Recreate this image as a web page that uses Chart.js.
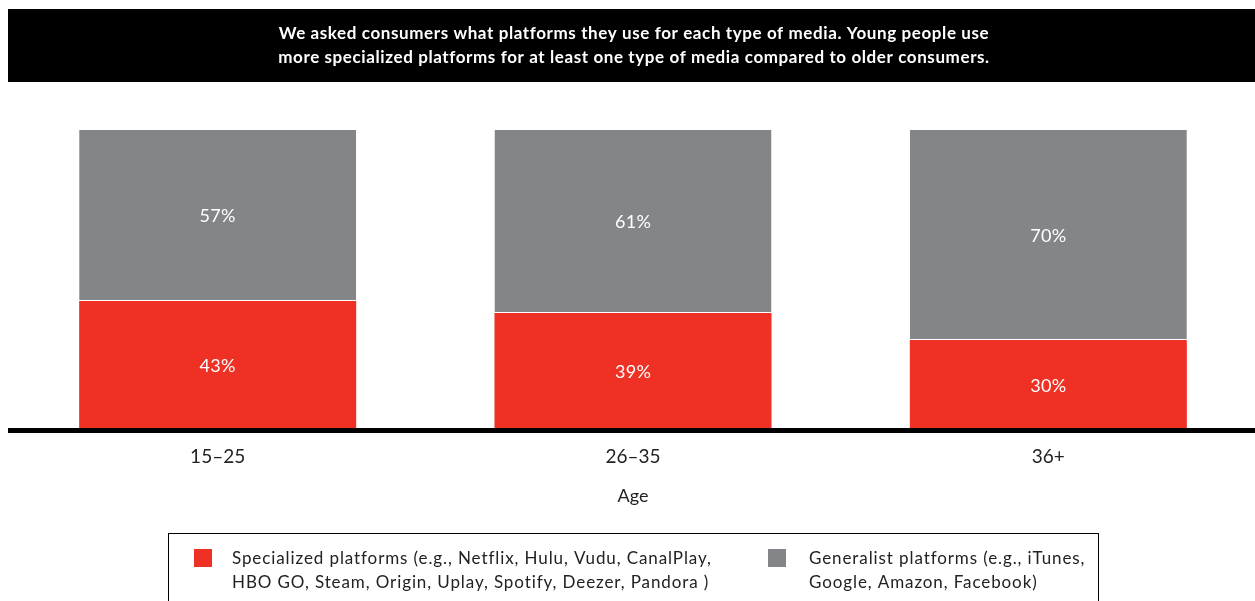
<!DOCTYPE html>
<html>
<head>
<meta charset="utf-8">
<script src="https://cdn.jsdelivr.net/npm/chart.js@4/dist/chart.umd.min.js"></script>
<style>
  html, body { margin: 0; padding: 0; background: #fff; overflow: hidden; }
  canvas { display: block; }
</style>
</head>
<body>
<canvas id="chart" width="1256" height="601"></canvas>
<script>
// Share of consumers by age group, by platform type (percent)
const ageGroups = ['15–25', '26–35', '36+'];
const specialized = [43, 39, 30];
const generalist = [57, 61, 70];
const seriesLabels = [
  'Specialized platforms (e.g., Netflix, Hulu, Vudu, CanalPlay,\nHBO GO, Steam, Origin, Uplay, Spotify, Deezer, Pandora )',
  'Generalist platforms (e.g., iTunes,\nGoogle, Amazon, Facebook)'
];
const headerLines = [
  'We asked consumers what platforms they use for each type of media. Young people use',
  'more specialized platforms for at least one type of media compared to older consumers.'
];
const axisTitle = 'Age';

const FONT = 'Lato, "Open Sans", sans-serif';
const RED = '#EE3124';
const GREY = '#848588';
const INK = '#222222';

// Header banner, axis title and boxed legend
const decorations = {
  id: 'decorations',
  beforeDraw(chart) {
    const ctx = chart.ctx;
    ctx.save();
    ctx.fillStyle = '#000';
    ctx.fillRect(8, 9, 1248, 73);
    ctx.fillStyle = '#fff';
    ctx.font = 'bold 17px ' + FONT;
    ctx.letterSpacing = '0.6px';
    ctx.textAlign = 'center';
    ctx.textBaseline = 'middle';
    headerLines.forEach((line, i) => ctx.fillText(line, 634, 34 + i * 24));
    ctx.restore();
  },
  afterDraw(chart) {
    const ctx = chart.ctx;
    ctx.save();
    // axis title
    ctx.fillStyle = INK;
    ctx.font = '18px ' + FONT;
    ctx.textAlign = 'center';
    ctx.textBaseline = 'middle';
    ctx.fillText(axisTitle, 633, 496);

    // legend frame
    ctx.strokeStyle = '#000';
    ctx.lineWidth = 1;
    ctx.strokeRect(168.5, 533.5, 930, 90);

    const swatchX = [194, 768];
    const textX = [232, 809];
    chart.data.datasets.forEach((ds, i) => {
      ctx.fillStyle = ds.backgroundColor;
      ctx.fillRect(swatchX[i], 549, 18, 18);
      ctx.fillStyle = INK;
      ctx.font = '17px ' + FONT;
      ctx.letterSpacing = '0.9px';
      ctx.textAlign = 'left';
      ctx.textBaseline = 'middle';
      ds.label.split('\n').forEach((line, j) => {
        ctx.fillText(line, textX[i], 559 + j * 24);
      });
    });
    ctx.restore();
  },
  afterDatasetsDraw(chart) {
    const ctx = chart.ctx;
    ctx.save();
    ctx.fillStyle = '#fff';
    ctx.font = '18px ' + FONT;
    ctx.letterSpacing = '0.3px';
    ctx.textAlign = 'center';
    ctx.textBaseline = 'middle';
    chart.data.datasets.forEach((ds, i) => {
      chart.getDatasetMeta(i).data.forEach((bar, k) => {
        const cy = (bar.y + bar.base) / 2;
        ctx.fillText(ds.data[k] + '%', bar.x, cy + 1);
      });
    });
    ctx.restore();
  }
};

new Chart(document.getElementById('chart'), {
  type: 'bar',
  data: {
    labels: ageGroups,
    datasets: [
      {
        label: seriesLabels[0],
        data: specialized,
        backgroundColor: RED,
        borderWidth: 0
      },
      {
        label: seriesLabels[1],
        data: generalist,
        backgroundColor: GREY,
        borderColor: '#ffffff',
        borderWidth: { top: 0, left: 0, right: 0, bottom: 1 },
        borderSkipped: false
      }
    ]
  },
  options: {
    responsive: false,
    animation: false,
    events: [],
    barPercentage: 0.667,
    categoryPercentage: 1,
    layout: { padding: { left: 10, right: 0, top: 130, bottom: 0 } },
    plugins: {
      legend: { display: false },
      title: { display: false },
      tooltip: { enabled: false }
    },
    scales: {
      x: {
        stacked: true,
        grid: { display: false, drawTicks: false },
        border: { display: true, color: '#000', width: 5, z: 1 },
        ticks: {
          color: INK,
          font: { family: FONT, size: 19 },
          padding: 15
        },
        afterFit(scale) { scale.height = 171; }
      },
      y: {
        stacked: true,
        display: false,
        min: 0,
        max: 100
      }
    }
  },
  plugins: [decorations]
});
</script>
</body>
</html>
